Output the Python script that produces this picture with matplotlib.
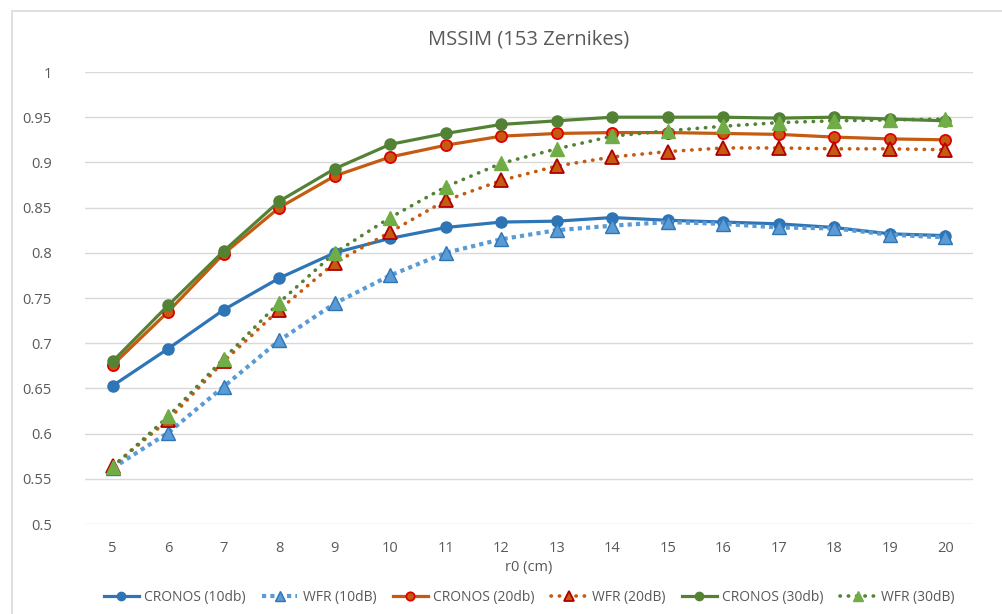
import matplotlib.pyplot as plt
from matplotlib.patches import Rectangle

plt.rcParams['font.family'] = ['Open Sans', 'DejaVu Sans']

r0 = [5, 6, 7, 8, 9, 10, 11, 12, 13, 14, 15, 16, 17, 18, 19, 20]
cronos_10 = [0.653, 0.694, 0.737, 0.772, 0.800, 0.816, 0.828, 0.834, 0.835, 0.839, 0.836, 0.834, 0.832, 0.828, 0.821, 0.819]
wfr_10 = [0.562, 0.601, 0.652, 0.703, 0.744, 0.775, 0.800, 0.815, 0.825, 0.830, 0.834, 0.832, 0.828, 0.827, 0.820, 0.817]
cronos_20 = [0.676, 0.735, 0.799, 0.850, 0.885, 0.906, 0.919, 0.929, 0.932, 0.933, 0.933, 0.932, 0.931, 0.928, 0.926, 0.925]
wfr_20 = [0.564, 0.615, 0.680, 0.737, 0.789, 0.823, 0.858, 0.880, 0.896, 0.906, 0.912, 0.916, 0.916, 0.915, 0.915, 0.914]
cronos_30 = [0.680, 0.742, 0.802, 0.857, 0.893, 0.920, 0.932, 0.942, 0.946, 0.950, 0.950, 0.950, 0.949, 0.950, 0.948, 0.946]
wfr_30 = [0.563, 0.619, 0.683, 0.745, 0.800, 0.839, 0.873, 0.899, 0.915, 0.929, 0.935, 0.940, 0.944, 0.946, 0.947, 0.948]
yticks = [0.5, 0.55, 0.6, 0.65, 0.7, 0.75, 0.8, 0.85, 0.9, 0.95, 1]

fig = plt.figure(figsize=(10.03, 6.14), dpi=100)
fig.patches.append(Rectangle((12 / 1003, -0.01), 1.0, 1 - 11 / 614 + 0.01,
                             transform=fig.transFigure, fill=False,
                             edgecolor='#d9d9d9', linewidth=1.2))
ax = fig.add_axes([85 / 1003, 90 / 614, 888 / 1003, 452 / 614])

# solid lines with circles, dotted lines with triangles
ax.plot(r0, cronos_10, color='#2e75b6', lw=2.3, marker='o', ms=8,
        mfc='#2e75b6', mec='#2e75b6', label='CRONOS (10db)', zorder=3)
ax.plot(r0, wfr_10, color='#5b9bd5', lw=3, ls=(0, (1, 1)), dash_capstyle='butt',
        marker='^', ms=10, mfc='#5b9bd5', mec='#2e75b6', label='WFR (10dB)', zorder=3)
ax.plot(r0, cronos_20, color='#c55a11', lw=2.3, marker='o', ms=8,
        mfc='#c55a11', mec='#e00000', mew=1.3, label='CRONOS (20db)', zorder=3)
ax.plot(r0, wfr_20, color='#c55a11', lw=2.6, ls=(0, (0.1, 2.2)), dash_capstyle='round',
        marker='^', ms=10, mfc='#c55a11', mec='#b00000', mew=1.3, label='WFR (20dB)', zorder=3)
ax.plot(r0, cronos_30, color='#548235', lw=2.3, marker='o', ms=8,
        mfc='#548235', mec='#548235', label='CRONOS (30db)', zorder=3)
ax.plot(r0, wfr_30, color='#548235', lw=2.6, ls=(0, (0.1, 2.2)), dash_capstyle='round',
        marker='^', ms=10, mfc='#70ad47', mec='#70ad47', label='WFR (30dB)', zorder=3)

ax.set_xlim(4.5, 20.5)
ax.set_ylim(0.5, 1.0)
ax.set_xticks(r0)
ax.set_yticks(yticks)
ax.set_yticklabels([f'{v:g}' for v in yticks])
ax.grid(axis='y', color='#d9d9d9', lw=1)
ax.set_axisbelow(True)
for s in ax.spines.values():
    s.set_visible(False)
ax.tick_params(length=0, labelsize=10.5, colors='#595959', pad=12)
ax.tick_params(axis='y', pad=24)

ax.set_title('MSSIM (153 Zernikes)', fontsize=14.5, color='#595959', pad=20)
ax.set_xlabel('r0 (cm)', fontsize=10.5, color='#595959', labelpad=3)

ax.legend(loc='upper center', bbox_to_anchor=(0.5, -0.118), ncol=6, frameon=False,
          fontsize=10, labelcolor='#595959', handlelength=2.5, handletextpad=0.4,
          columnspacing=1.2, markerscale=0.75)

fig.savefig('out.png', dpi=100)
